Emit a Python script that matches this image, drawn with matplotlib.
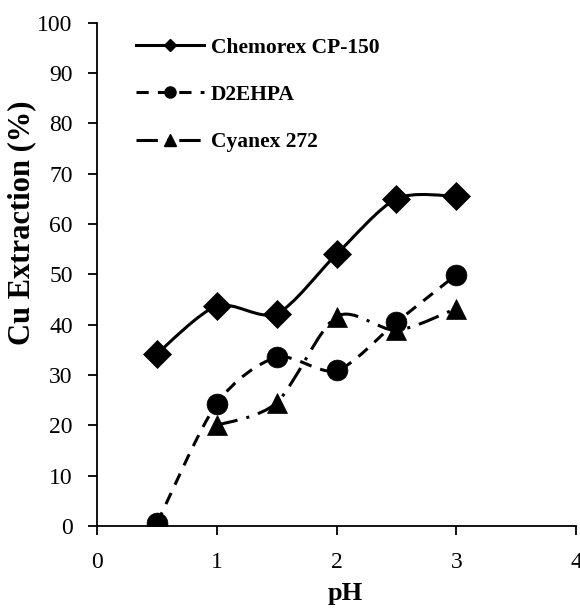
import matplotlib
matplotlib.use("Agg")
import matplotlib.pyplot as plt
from matplotlib.path import Path
from matplotlib.patches import PathPatch
from matplotlib.lines import Line2D
import numpy as np

ph = [0.5, 1.0, 1.5, 2.0, 2.5, 3.0]
chemorex = [34.2, 43.7, 42.2, 54.0, 65.0, 65.5]
ph_cy = [1.0, 1.5, 2.0, 2.5, 3.0]
d2ehpa = [0.5, 24.3, 33.5, 30.9, 40.5, 49.9]
cyanex = [20.0, 24.5, 41.6, 38.9, 43.2]

names = ["Chemorex CP-150", "D2EHPA", "Cyanex 272"]

plt.rcParams['font.family'] = ['Liberation Serif', 'DejaVu Serif']

fig = plt.figure(figsize=(5.8, 6.08), dpi=100)
ax = fig.add_axes([0.1672, 0.1349, 0.826, 0.8278])


def smooth_path(x, y, k=7.0):
    pts = np.column_stack([x, y]).astype(float)
    n = len(pts)
    verts = [pts[0]]
    codes = [Path.MOVETO]
    for i in range(n - 1):
        p0 = pts[i - 1] if i > 0 else pts[i]
        p1 = pts[i]
        p2 = pts[i + 1]
        p3 = pts[i + 2] if i + 2 < n else pts[i + 1]
        c1 = p1 + (p2 - p0) / k
        c2 = p2 - (p3 - p1) / k
        verts += [c1, c2, p2]
        codes += [Path.CURVE4] * 3
    return Path(verts, codes)


styles = [
    dict(ls='-', marker='D', ms=14, lms=6),
    dict(ls=(0, (4, 3)), marker='o', ms=15, lms=8),
    dict(ls=(0, (7, 3, 1, 3)), marker='^', ms=15, lms=8),
]
series = [(ph, chemorex), (ph, d2ehpa), (ph_cy, cyanex)]

handles = []
for (x, y), st, nm in zip(series, styles, names):
    patch = PathPatch(smooth_path(x, y), facecolor='none', edgecolor='black',
                      lw=2.2, linestyle=st['ls'], zorder=2)
    ax.add_patch(patch)
    ax.plot(x, y, ls='none', marker=st['marker'], ms=st['ms'], color='black',
            mew=0.5, zorder=3)
    handles.append(Line2D([], [], color='black', lw=2.2, ls=st['ls'],
                          marker=st['marker'], ms=st['lms']))

ax.set_xlim(0, 4)
ax.set_ylim(0, 100)
ax.set_xticks([0, 1, 2, 3, 4])
ax.set_yticks(range(0, 101, 10))
ax.spines['top'].set_visible(False)
ax.spines['right'].set_visible(False)
for s in ['left', 'bottom']:
    ax.spines[s].set_linewidth(1.3)
ax.tick_params(direction='out', length=6.5, width=1.3, labelsize=17)
ax.tick_params(axis='y', pad=11)
ax.tick_params(axis='x', pad=12)
ax.set_xlabel('pH', fontsize=19, fontweight='bold')
ax.set_ylabel('Cu Extraction (%)', fontsize=22, fontweight='bold')
ax.xaxis.set_label_coords(0.518, -0.112)
ax.xaxis.label.set_va('top')
ax.yaxis.set_label_coords(-0.126, 0.602)

leg = ax.legend(handles, names, loc='upper left', bbox_to_anchor=(0.04, 1.009),
                frameon=False, handlelength=3.2, labelspacing=1.27,
                prop={'weight': 'bold', 'size': 15.5}, handletextpad=0.3,
                markerscale=1.0)

fig.savefig('out.png', dpi=100)
